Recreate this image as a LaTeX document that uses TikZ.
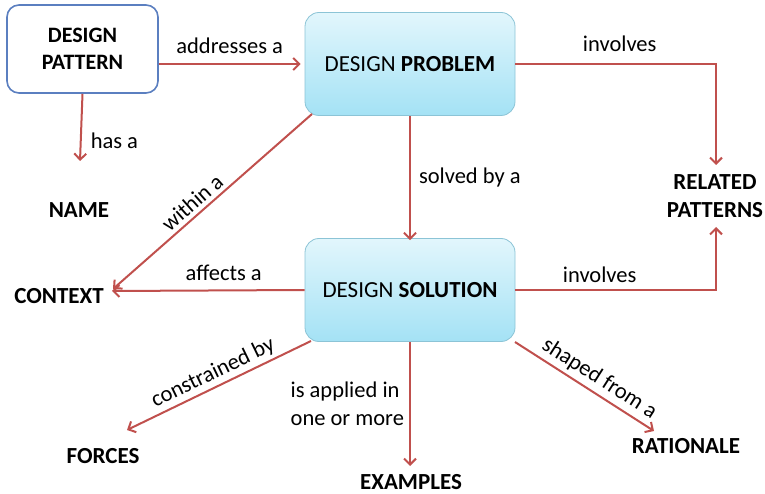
\documentclass[tikz,border=0pt]{standalone}
\usepackage{fontspec}
\setmainfont{Carlito}
\usetikzlibrary{arrows.meta,shadings}
\definecolor{arrowred}{HTML}{C0504D}
\definecolor{patblue}{HTML}{5B7FC0}
\definecolor{boxtop}{HTML}{E2F6FC}
\definecolor{boxbot}{HTML}{A4E2F5}
\definecolor{boxedge}{HTML}{8CC4D6}
\tikzset{
  patbox/.style={draw=patblue, line width=1.6pt, fill=white, rounded corners=12pt,
    minimum width=151pt, minimum height=88pt, align=center, font=\fontsize{22}{27}\selectfont\bfseries},
  bluebox/.style={draw=boxedge, line width=0.8pt, rounded corners=14pt,
    top color=boxtop, bottom color=boxbot,
    minimum width=210pt, minimum height=103pt, align=center, font=\fontsize{23}{27}\selectfont},
  term/.style={align=center, font=\fontsize{23}{28}\selectfont\bfseries, inner sep=0pt},
  lbl/.style={font=\fontsize{22.5}{28}\selectfont, inner sep=0pt, align=left},
  conn/.style={draw=arrowred, line width=2pt, -{Straight Barb[length=6pt,width=12pt,line width=2pt]}},
}
\begin{document}
\begin{tikzpicture}[x=1pt,y=-1pt]
\useasboundingbox (0,0) rectangle (765,494);

% concept boxes
\node[patbox] (pat) at (82.5,49) {DESIGN\\PATTERN};
\node[bluebox] (prob) at (410,64) {DESIGN \textbf{PROBLEM}};
\node[bluebox] (soln) at (410,290) {DESIGN \textbf{SOLUTION}};

% plain terms
\node[term] (name) at (79,210) {NAME};
\node[term] (ctx) at (59,296) {CONTEXT};
\node[term] (rel) at (715,196) {RELATED\\PATTERNS};
\node[term] (forc) at (103,456) {FORCES};
\node[term] (ex) at (411,482) {EXAMPLES};
\node[term] (rat) at (686,446) {RATIONALE};

% arrow ends
\coordinate (nameTip) at (80,161);
\coordinate (ctxTip) at (112,291);
\coordinate (ctxTip2) at (113,289);
\coordinate (relTop) at (716,165);
\coordinate (relBot) at (716,227);
\coordinate (forcTip) at (127,430);
\coordinate (exTip) at (410,466);
\coordinate (ratTip) at (654,431);
\coordinate (probStart) at (312,114);
\coordinate (solnSW) at (311,341);
\coordinate (solnSE) at (515,342);

% connectors
\draw[conn] (pat.east |- prob.west) -- ([xshift=-4pt]prob.west)
  node[lbl, midway, above=9pt] {addresses a};
\draw[conn] (pat.south) -- (nameTip)
  node[lbl, pos=0.7, right=9pt] {has a};
\draw[conn] (probStart) -- (ctxTip2)
  node[lbl, pos=0.56, sloped, above=4pt] {within a};
\draw[conn] (soln.west) -- (ctxTip)
  node[lbl, pos=0.42, above=9pt] {affects a};
\draw[conn] (prob.east) -| (relTop)
  node[lbl, pos=0.26, above=11pt] {involves};
\draw[conn] (soln.east) -| (relBot)
  node[lbl, pos=0.21, above=6pt] {involves};
\draw[conn] (prob.south) -- ([yshift=-2pt]soln.north)
  node[lbl, midway, right=8pt] {solved by a};
\draw[conn] (solnSW) -- (forcTip)
  node[lbl, pos=0.5, sloped, above=3pt] {constrained by};
\draw[conn] (soln.south) -- (exTip)
  node[lbl, pos=0.5, left=5pt] {is applied in\\one or more};
\draw[conn] (solnSE) -- (ratTip)
  node[lbl, pos=0.55, sloped, above=4pt] {shaped from a};
\end{tikzpicture}
\end{document}
